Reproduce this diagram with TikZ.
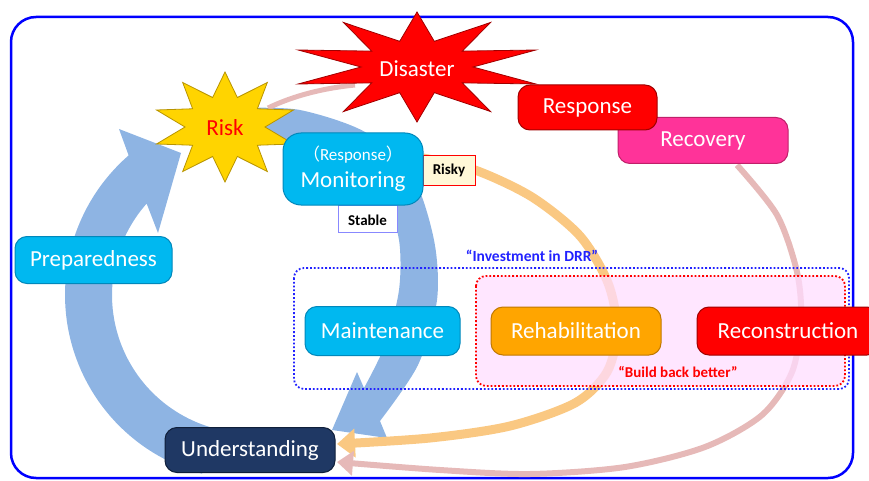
\documentclass[tikz,border=0pt]{standalone}
\usepackage{fontspec}
\setmainfont{Carlito}
\newfontfamily\cjkfont{Noto Sans CJK JP}
\usetikzlibrary{arrows.meta}
\definecolor{cyanbox}{HTML}{00B8F0}
\definecolor{cyanedge}{HTML}{0088BB}
\definecolor{navybox}{HTML}{1F3864}
\definecolor{navyedge}{HTML}{0F1F3A}
\definecolor{bandblue}{HTML}{8EB4E3}
\definecolor{orangearc}{HTML}{FAC882}
\definecolor{pinkarc}{HTML}{E6B9B8}
\definecolor{pinkfill}{HTML}{FFDDFF}
\definecolor{recovbox}{HTML}{FF3399}
\definecolor{recovedge}{HTML}{C0206A}
\definecolor{rehabbox}{HTML}{FFA500}
\definecolor{rehabedge}{HTML}{C07800}
\definecolor{redbox}{HTML}{FF0000}
\definecolor{rededge}{HTML}{A00000}
\definecolor{staryellow}{HTML}{FFD400}
\definecolor{staryedge}{HTML}{B89400}
\definecolor{frameblue}{HTML}{0000FF}
\definecolor{dotblue}{HTML}{2222FF}
\definecolor{riskyfill}{HTML}{FFF8D8}
\definecolor{stableedge}{HTML}{8888FF}
\tikzset{
  pill/.style={rounded corners=12pt, line width=1pt, text=white, inner sep=0pt,
    align=center, font=\fontsize{23}{26}\selectfont},
  cyanpill/.style={pill, fill=cyanbox, draw=cyanedge},
  tag/.style={line width=0.8pt, inner sep=0pt, font=\bfseries\fontsize{15}{17}\selectfont},
  bigarc/.style={line cap=round},
}
\begin{document}
\begin{tikzpicture}[x=1pt,y=-1pt]
\useasboundingbox (0,0) rectangle (869,481);
% frame
\draw[frameblue, line width=2.5pt, rounded corners=25pt] (11,17) rectangle (853,478);

% left blue band with head
\fill[bandblue] plot[domain=255:131, samples=60] ({250+185*cos(\x)},{295-185*sin(\x)})
  -- (119,129) -- (181,153) -- (158,233)
  -- plot[domain=138.5:255, samples=60] ({250+138*cos(\x)},{295-138*sin(\x)}) -- cycle;
% right blue band with head
\fill[bandblue] plot[smooth] coordinates {(245,108) (300,110) (365,132) (412,175) (434,240) (437,300) (418,365) (380,421)}
  -- (387,438) -- (332,430) -- (357,372)
  -- plot[smooth] coordinates {(364,388) (385,345) (399,290) (399,240) (384,196) (350,162) (300,143) (245,141)} -- cycle;

% orange and pink arcs
\draw[orangearc, line width=9pt, -{Triangle[length=18pt,width=28pt]}]
  plot[smooth] coordinates {(423,158) (475,170) (532,197) (580,236) (608,283) (617,330) (607,372) (575,403) (510,426) (430,438) (337,444)};
\draw[pinkarc, line width=6pt, -{Triangle[length=16pt,width=24pt]}]
  plot[smooth] coordinates {(737,165) (777,215) (797,272) (801,320) (792,372) (762,415) (705,447) (625,467) (530,474) (440,470) (337,462)};
\draw[pinkarc, line width=5pt] (268,108) .. controls (295,95) and (325,88) .. (355,85);

% DRR boxes
\fill[pinkfill, opacity=0.75, rounded corners=10pt] (476,276) rectangle (845,386);
\draw[red, line width=1.8pt, dotted, rounded corners=10pt] (476,276) rectangle (845,386);
\draw[dotblue, line width=1.8pt, dotted, rounded corners=10pt] (294,268) rectangle (849,389);
\node[text=dotblue, font=\bfseries\fontsize{15.5}{18}\selectfont] (inv) at (532,256) {“Investment in DRR”};
\node[text=red, font=\bfseries\fontsize{15}{18}\selectfont] (bbb) at (678,372) {“Build back better”};

% stars
\filldraw[fill=redbox, draw=rededge, line width=0.8pt] plot[samples at={0,...,19}]
  ({417+(mod(\x,2)==0 ? 125 : 56)*cos(90+18*\x)}, {67-(mod(\x,2)==0 ? 55 : 27)*sin(90+18*\x)}) -- cycle;
\node[text=white, font=\fontsize{23}{26}\selectfont] (disaster) at (417,69) {Disaster};
\filldraw[fill=staryellow, draw=staryedge, line width=0.8pt] plot[samples at={0,...,19}]
  ({225+(mod(\x,2)==0 ? 72 : 40)*cos(90+18*\x)}, {127-(mod(\x,2)==0 ? 55 : 31)*sin(90+18*\x)}) -- cycle;
\node[text=red, font=\fontsize{23}{26}\selectfont] (risk) at (225,128) {Risk};

% tags and nodes
\node[tag, draw=red, fill=riskyfill, minimum width=52pt, minimum height=30pt] (risky) at (449,170) {Risky};
\node[tag, draw=stableedge, fill=white, minimum width=59pt, minimum height=27pt, text depth=0pt] (stable) at (367.5,219) {\raisebox{-3pt}{Stable}};
\node[cyanpill, rounded corners=18pt, minimum width=140pt, minimum height=72pt] (monitor) at (353,169)
  {{\fontsize{17}{19}\selectfont{\cjkfont （}Response{\cjkfont ）}}\\[1pt]Monitoring};
\node[cyanpill, minimum width=157pt, minimum height=47pt] (prep) at (93.5,260) {Preparedness};
\node[cyanpill, minimum width=155pt, minimum height=49pt] (maint) at (382.5,331) {Maintenance};
\node[pill, fill=rehabbox, draw=rehabedge, minimum width=170pt, minimum height=48pt] (rehab) at (576,331) {Rehabilitation};
\node[pill, fill=redbox, draw=rededge, minimum width=182pt, minimum height=48pt] (recon) at (788,331) {Reconstruction};
\node[pill, fill=navybox, draw=navyedge, minimum width=170pt, minimum height=45pt] (underst) at (250,450) {Understanding};
\node[pill, fill=recovbox, draw=recovedge, minimum width=170pt, minimum height=46pt] (recov) at (703,140.5) {Recovery};
\node[pill, fill=redbox, draw=rededge, minimum width=139pt, minimum height=45pt] (resp) at (587.5,107.5) {Response};
\end{tikzpicture}
\end{document}
